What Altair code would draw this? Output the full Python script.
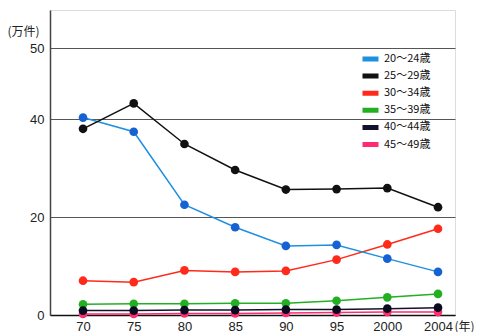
import altair as alt
import pandas as pd

years = ["70", "75", "80", "85", "90", "95", "2000", "2004"]
series_names = ["20〜24歳", "25〜29歳", "30〜34歳", "35〜39歳", "40〜44歳", "45〜49歳"]
v20_24 = [40.2, 37.4, 22.5, 17.9, 14.1, 14.3, 11.5, 8.8]
v25_29 = [38.0, 42.2, 34.9, 29.6, 25.6, 25.7, 25.9, 22.0]
v30_34 = [7.0, 6.7, 9.1, 8.8, 9.0, 11.3, 14.4, 17.6]
v35_39 = [2.2, 2.3, 2.3, 2.4, 2.4, 2.9, 3.6, 4.3]
v40_44 = [0.9, 0.9, 1.0, 1.0, 1.1, 1.1, 1.3, 1.5]
v45_49 = [0.2, 0.2, 0.3, 0.3, 0.4, 0.5, 0.6, 0.6]
y_ticks = [0, 20, 40, 50]

line_colors = ["#1f8fe0", "#111111", "#ff2a1a", "#22b022", "#12122e", "#ff2d6f"]
point_colors = ["#1662d2", "#111111", "#ff2a1a", "#22b022", "#0a0a20", "#ff2d6f"]

values = {
    "20〜24歳": v20_24, "25〜29歳": v25_29, "30〜34歳": v30_34,
    "35〜39歳": v35_39, "40〜44歳": v40_44, "45〜49歳": v45_49,
}
draw_order = ["45〜49歳", "35〜39歳", "40〜44歳", "30〜34歳", "20〜24歳", "25〜29歳"]
rows = []
for i, s in enumerate(draw_order):
    for k, (y, v) in enumerate(zip(years, values[s])):
        rows.append({"idx": k, "year": y, "series": s, "value": v, "ord": i})
df = pd.DataFrame(rows)

label_expr = "[" + ",".join("'%s'" % y for y in years) + "][datum.value]"

x_enc = alt.X("idx:Q",
              scale=alt.Scale(domain=[-0.651, 7.335], nice=False, zero=False),
              axis=alt.Axis(values=list(range(len(years))), labelExpr=label_expr,
                            title="(年)", labelAngle=0, ticks=False, grid=False,
                            domainColor="#111", domainWidth=1.6,
                            labelFont="Liberation Sans", labelFontSize=13,
                            labelColor="#222", labelPadding=5,
                            titleFont="Noto Sans CJK JP", titleFontSize=12,
                            titleFontWeight="normal", titleColor="#222",
                            titleAnchor="start", titleAlign="left",
                            titleX=404, titleY=6, titleBaseline="top"))
y_enc = alt.Y("value:Q",
              scale=alt.Scale(domain=[0, 40, 50, 55.4], range=[305, 109, 38, 0],
                              nice=False, zero=False),
              axis=alt.Axis(values=y_ticks, title="(万件)", titleAngle=0,
                            titleAlign="left", titleBaseline="middle",
                            titleX=-43, titleY=21,
                            titleFont="Noto Sans CJK JP", titleFontSize=12,
                            titleFontWeight="normal", titleColor="#222",
                            ticks=False, domainColor="#444", domainWidth=1.5,
                            grid=True, gridColor="#555", gridWidth=1.2,
                            labelFont="Liberation Sans", labelFontSize=13,
                            labelColor="#222", labelPadding=6))

lines = alt.Chart(df).mark_line(strokeWidth=1.5).encode(
    x=x_enc, y=y_enc,
    color=alt.Color("series:N", sort=series_names,
                    scale=alt.Scale(domain=series_names, range=line_colors),
                    legend=alt.Legend(title=None, orient="none", legendX=312.5, legendY=42,
                                      symbolType="M-2,0H2", symbolSize=81,
                                      symbolStrokeWidth=5, labelFont="Noto Sans CJK JP",
                                      labelFontSize=11, labelColor="#111",
                                      labelOffset=7.5, rowPadding=3.1, clipHeight=14,
                                      padding=0)),
    detail="series:N",
    order="ord:Q",
)
points = alt.Chart(df).mark_point(filled=True, size=75, opacity=1).encode(
    x=x_enc, y=y_enc,
    color=alt.Color("series:N",
                    scale=alt.Scale(domain=series_names, range=point_colors),
                    legend=None),
    order="ord:Q",
)

chart = alt.layer(lines, points).resolve_scale(color="independent").properties(
    width=405, height=305,
    autosize=alt.AutoSizeParams(type="none"),
    padding={"left": 50, "top": 10, "right": 23, "bottom": 17},
).configure_view(stroke=None).configure(background="white")

chart.save("out.html", embed_options={"renderer": "svg", "actions": False})
